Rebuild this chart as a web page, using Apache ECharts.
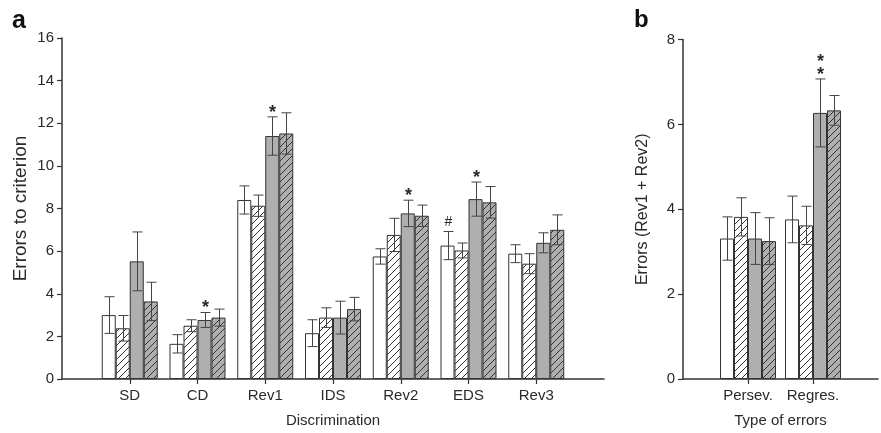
<!DOCTYPE html>
<html><head><meta charset="utf-8">
<script src="https://cdn.jsdelivr.net/npm/echarts@6/dist/echarts.min.js"></script>
<style>html,body{margin:0;padding:0;background:#fff}#c{width:881px;height:433px}</style>
</head><body><div id="c"></div>
<script>
// ---------- DATA ----------
const categoriesA = ['SD', 'CD', 'Rev1', 'IDS', 'Rev2', 'EDS', 'Rev3'];
const categoriesB = ['Persev.', 'Regres.'];
const seriesNames = ['Group 1', 'Group 2', 'Group 3', 'Group 4'];

// Panel a: mean errors to criterion
const meanA1 = [3.0, 1.65, 8.4, 2.15, 5.75, 6.26, 5.88];
const meanA2 = [2.38, 2.5, 8.13, 2.88, 6.76, 6.03, 5.41];
const meanA3 = [5.52, 2.77, 11.4, 2.88, 7.77, 8.44, 6.39];
const meanA4 = [3.64, 2.88, 11.52, 3.28, 7.66, 8.29, 7.0];
// Panel a: SEM
const errA1 = [0.86, 0.43, 0.66, 0.63, 0.36, 0.66, 0.42];
const errA2 = [0.6, 0.28, 0.5, 0.46, 0.78, 0.35, 0.47];
const errA3 = [1.38, 0.35, 0.9, 0.77, 0.62, 0.8, 0.47];
const errA4 = [0.9, 0.4, 0.97, 0.55, 0.5, 0.74, 0.7];

// Panel b: errors (Rev1 + Rev2)
const meanB1 = [3.31, 3.76];
const meanB2 = [3.82, 3.62];
const meanB3 = [3.31, 6.27];
const meanB4 = [3.25, 6.33];
const errB1 = [0.51, 0.55];
const errB2 = [0.45, 0.45];
const errB3 = [0.61, 0.8];
const errB4 = [0.55, 0.35];

// Significance marks: [category, series index, text]
const marksA = [['CD', 2, '*'], ['Rev1', 2, '*'], ['Rev2', 2, '*'], ['EDS', 2, '*'], ['EDS', 0, '#']];
const marksB = [['Regres.', 2, '**']];

const yTicksA = {min: 0, max: 16, interval: 2};
const yTicksB = {min: 0, max: 8, interval: 2};

// ---------- STYLE ----------
const FONT = '"Liberation Sans", Arial, sans-serif';
const INK = '#2a2a2a';
const GREY = '#afafaf';
const BAR_W = 14;

function hatch(bg) {
  const s = 7;
  const c = document.createElement('canvas');
  c.width = s; c.height = s;
  const g = c.getContext('2d');
  g.fillStyle = bg; g.fillRect(0, 0, s, s);
  g.strokeStyle = '#333'; g.lineWidth = 1;
  g.beginPath();
  g.moveTo(-1, s + 1); g.lineTo(s + 1, -1);
  g.moveTo(-1, 1); g.lineTo(1, -1);
  g.moveTo(s - 1, s + 1); g.lineTo(s + 1, s - 1);
  g.stroke();
  return c;
}
const fills = ['#ffffff', {image: hatch('#ffffff'), repeat: 'repeat'}, GREY, {image: hatch(GREY), repeat: 'repeat'}];

const pad = arr => ['-'].concat(arr, ['-']);
const padCats = cats => [''].concat(cats, ['']);

function errRender(offset, marks) {
  return function (params, api) {
    const ci = api.value(0), m = api.value(1), e = api.value(2);
    const t = api.coord([ci, m + e]);
    const b = api.coord([ci, m - e]);
    const x = Math.round(t[0] + offset) + 0.5;
    const st = {stroke: '#444', lineWidth: 1};
    const ch = [
      {type: 'line', shape: {x1: x, y1: t[1], x2: x, y2: b[1]}, style: st},
      {type: 'line', shape: {x1: x - 5, y1: t[1], x2: x + 5, y2: t[1]}, style: st},
      {type: 'line', shape: {x1: x - 5, y1: b[1], x2: x + 5, y2: b[1]}, style: st}
    ];
    const mk = marks[params.dataIndex];
    if (mk) {
      if (mk === '#') {
        ch.push({type: 'text', style: {text: '#', x: x, y: t[1] - 9, align: 'center', verticalAlign: 'middle', font: '14px ' + FONT, fill: INK}});
      } else {
        for (let k = 0; k < mk.length; k++) {
          ch.push({type: 'text', style: {text: '*', x: x, y: t[1] - 4 - 13 * k, align: 'center', verticalAlign: 'middle', font: 'bold 18px ' + FONT, fill: INK}});
        }
      }
    }
    return {type: 'group', children: ch};
  };
}

function buildPanel(gi, cats, means, errs, marks) {
  const out = [];
  means.forEach((m, i) => {
    out.push({
      type: 'bar', name: seriesNames[i], xAxisIndex: gi, yAxisIndex: gi,
      data: pad(m), barWidth: BAR_W, barGap: '0%',
      itemStyle: {color: fills[i], borderColor: '#333', borderWidth: 1},
      emphasis: {disabled: true}, animation: false
    });
  });
  means.forEach((m, i) => {
    const mk = m.map((v, j) => {
      const f = marks.find(r => r[0] === cats[j] && r[1] === i);
      return f ? f[2] : null;
    });
    out.push({
      type: 'custom', xAxisIndex: gi, yAxisIndex: gi, z: 5, clip: false,
      renderItem: errRender((i - 1.5) * BAR_W, mk),
      data: m.map((v, j) => [j + 1, v, errs[i][j]]),
      animation: false, silent: true
    });
  });
  return out;
}

const axisLineStyle = {color: '#333', width: 1.5};
function xAxisDef(gi, cats, name, gap, fs) {
  return {
    type: 'category', gridIndex: gi, data: padCats(cats), boundaryGap: false,
    axisLine: {lineStyle: axisLineStyle},
    axisTick: {length: 5, lineStyle: {color: '#333', width: 1.2}, interval: (idx, v) => v !== ''},
    axisLabel: {fontFamily: FONT, fontSize: fs, color: INK, margin: 9, interval: 0},
    name: name, nameLocation: 'middle', nameGap: gap,
    nameTextStyle: {fontFamily: FONT, fontSize: fs, color: INK}
  };
}
function yAxisDef(gi, t, name, gap, nfs) {
  return {
    type: 'value', gridIndex: gi, min: t.min, max: t.max, interval: t.interval,
    axisLine: {show: true, lineStyle: axisLineStyle},
    axisTick: {show: true, length: 5, lineStyle: {color: '#333', width: 1.2}},
    axisLabel: {fontFamily: FONT, fontSize: 15, color: INK, margin: 8},
    splitLine: {show: false},
    name: name, nameLocation: 'middle', nameGap: gap, nameMoveOverlap: false,
    nameTextStyle: {fontFamily: FONT, fontSize: nfs, color: INK}
  };
}

const chart = echarts.init(document.getElementById('c'), null, {renderer: 'canvas'});
chart.setOption({
  animation: false,
  backgroundColor: '#fff',
  grid: [
    {left: 62, right: 277, top: 38, bottom: 52},
    {left: 683, right: -10.5, top: 39.5, bottom: 51.3}
  ],
  xAxis: [
    xAxisDef(0, categoriesA, 'Discrimination', 34, 15),
    xAxisDef(1, categoriesB, 'Type of errors', 34, 15)
  ],
  yAxis: [
    yAxisDef(0, yTicksA, 'Errors to criterion', 32, 19),
    yAxisDef(1, yTicksB, 'Errors (Rev1 + Rev2)', 32, 16)
  ],
  graphic: [
    {type: 'text', left: 12, top: 9, style: {text: 'a', font: 'bold 25px ' + FONT, fill: '#111'}},
    {type: 'text', left: 634, top: 8, style: {text: 'b', font: 'bold 24px ' + FONT, fill: '#111'}}
  ],
  series: buildPanel(0, categoriesA, [meanA1, meanA2, meanA3, meanA4], [errA1, errA2, errA3, errA4], marksA)
    .concat(buildPanel(1, categoriesB, [meanB1, meanB2, meanB3, meanB4], [errB1, errB2, errB3, errB4], marksB))
});
</script>
</body></html>
